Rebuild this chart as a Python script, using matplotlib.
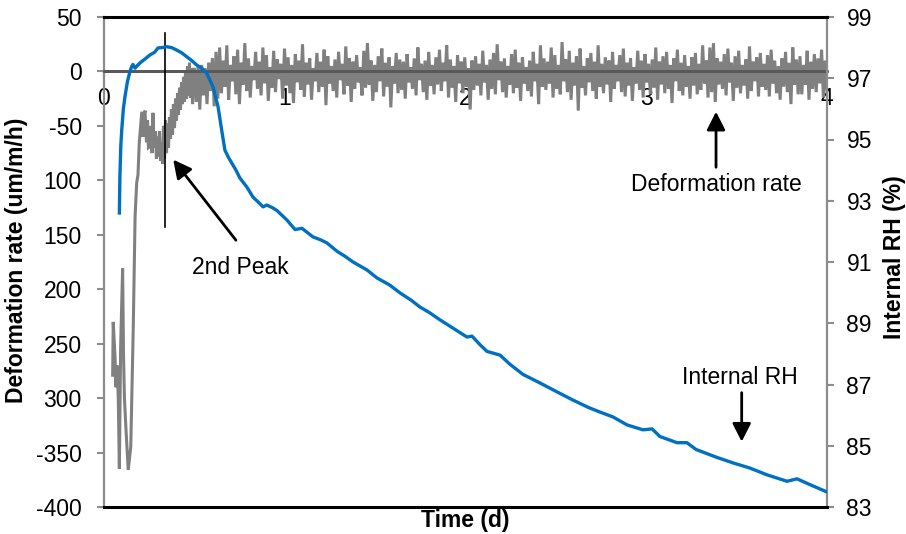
"""
Deformation rate vs internal RH - recreation of the early-age shrinkage chart.
"""

import matplotlib
matplotlib.use("Agg")
import matplotlib.pyplot as plt
import numpy as np

plt.rcParams["font.family"] = ["Liberation Sans", "DejaVu Sans"]

# --- Internal RH (right axis, %) -------------------------------------------
rh_time = [0.085, 0.088, 0.093, 0.098, 0.107, 0.116, 0.130, 0.145, 0.153, 0.160,
           0.172, 0.185, 0.199, 0.225, 0.254, 0.280, 0.299, 0.320, 0.347, 0.375,
           0.402, 0.430, 0.458, 0.485, 0.513, 0.540, 0.568, 0.603, 0.631, 0.651,
           0.669, 0.690, 0.707, 0.730, 0.752, 0.790, 0.824, 0.860, 0.880, 0.900,
           0.930, 0.957, 1.012, 1.057, 1.095, 1.156, 1.200, 1.234, 1.289, 1.330,
           1.378, 1.455, 1.510, 1.580, 1.638, 1.700, 1.748, 1.800, 1.859, 1.931,
           2.008, 2.036, 2.080, 2.119, 2.191, 2.246, 2.318, 2.412, 2.506, 2.595,
           2.680, 2.744, 2.816, 2.894, 2.982, 3.032, 3.076, 3.170, 3.225, 3.275,
           3.386, 3.480, 3.574, 3.668, 3.779, 3.834, 3.906, 4.000]
rh_value = [92.6, 93.8, 94.8, 95.3, 96.0, 96.4, 96.9, 97.25, 97.38, 97.45,
            97.33, 97.42, 97.50, 97.62, 97.76, 97.85, 97.99, 98.00, 98.03, 98.00,
            97.92, 97.83, 97.70, 97.58, 97.43, 97.33, 97.17, 96.72, 96.07, 95.31,
            94.65, 94.40, 94.23, 94.00, 93.74, 93.45, 93.12, 92.92, 92.80, 92.86,
            92.78, 92.68, 92.37, 92.06, 92.10, 91.82, 91.72, 91.62, 91.35, 91.20,
            91.00, 90.74, 90.48, 90.25, 89.99, 89.75, 89.53, 89.35, 89.11, 88.84,
            88.55, 88.58, 88.30, 88.08, 87.96, 87.66, 87.33, 87.05, 86.76, 86.49,
            86.25, 86.10, 85.94, 85.68, 85.52, 85.55, 85.30, 85.10, 85.10, 84.88,
            84.63, 84.44, 84.27, 84.05, 83.84, 83.92, 83.73, 83.49]

# --- Deformation rate (left axis, um/m/h) : early transient ----------------
rate_early_time = [0.048, 0.051, 0.061, 0.066, 0.072, 0.079, 0.085, 0.092, 0.103, 0.108,
                   0.113, 0.122, 0.134, 0.148, 0.162, 0.172, 0.181, 0.188, 0.195, 0.209,
                   0.216, 0.221, 0.227, 0.235, 0.241, 0.246, 0.254, 0.260, 0.266, 0.271,
                   0.277, 0.285, 0.290, 0.296, 0.302, 0.307, 0.313, 0.318, 0.324, 0.329,
                   0.335, 0.340, 0.346, 0.351, 0.357, 0.362, 0.368, 0.373, 0.379, 0.384,
                   0.390, 0.396, 0.401, 0.407, 0.412, 0.418, 0.423, 0.429, 0.434, 0.440,
                   0.445, 0.451, 0.456, 0.462, 0.467, 0.473, 0.478, 0.484, 0.490, 0.495]
rate_early_value = [-279, -230, -262, -290, -270, -300, -365, -253, -181, -260,
                    -300, -330, -366, -345, -234, -133, -102, -95, -66, -37,
                    -60, -40, -36, -65, -45, -70, -69, -50, -75, -38,
                    -70, -55, -80, -60, -78, -55, -82, -65, -85, -50,
                    -80, -45, -75, -48, -70, -42, -62, -35, -58, -30,
                    -52, -25, -45, -20, -40, -15, -35, -10, -30, -5,
                    -28, 0, -25, 5, -22, 8, -24, 3, -30, 2]

# --- Deformation rate : noisy plateau, alternating peaks / troughs ---------
rate_peaks = [2, 4, 6, 3, 8, 12, 18, 22,
              10, 24, 6, 14, 20, 8, 26, 12, 5, 18,
              9, 22, 15, 4, 19, 11, 7, 21, 13, 6,
              16, 10, 25, 8, 12, 3, 17, 9, 20, 14,
              5, 11, 18, 7, 23, 12, 9, 15, 4, 19,
              26, 10, 6, 14, 21, 8, 13, 5, 17, 11,
              9, 16, 4, 12, 22, 7, 10, 18, 6, 13,
              20, 8, 24, 11, 5, 15, 9, 13, 3, 10,
              14, 7, 19, 6, 11, 17, 25, 9, 12, 5,
              16, 20, 8, 13, 4, 10, 18, 7, 24, 12,
              9, 22, 15, 6, 27, 11, 19, 8, 14, 21,
              5, 12, 17, 9, 24, 7, 13, 10, 18, 6,
              15, 21, 8, 12, 4, 19, 10, 16, 7, 11,
              22, 9, 14, 18, 6, 12, 20, 8, 15, 5,
              13, 17, 7, 24, 10, 22, 26, 12, 9, 16,
              21, 8, 14, 19, 6, 11, 23, 9, 13, 17,
              7, 15, 20, 10, 5, 12, 18, 8, 22, 11,
              14, 6, 19, 9, 16, 12, 20, 10]
rate_troughs = [-28, -35, -22, -30, -18, -32, -25, -20,
                -14, -26, -9, -21, -30, -12, -18, -24, -8, -16,
                -22, -11, -27, -15, -19, -7, -25, -13, -20, -29,
                -10, -17, -23, -12, -26, -9, -19, -14, -31, -11,
                -18, -24, -8, -21, -13, -28, -16, -10, -22, -15,
                -12, -27, -19, -9, -23, -14, -33, -11, -20, -17,
                -25, -10, -16, -22, -8, -19, -26, -13, -21, -12,
                -18, -9, -24, -15, -28, -11, -20, -14, -35, -17,
                -13, -22, -10, -26, -16, -21, -8, -19, -24, -12,
                -20, -15, -27, -11, -18, -23, -9, -30, -14, -17,
                -11, -24, -16, -21, -9, -19, -26, -13, -36, -15,
                -22, -10, -18, -25, -14, -20, -12, -28, -16, -9,
                -19, -23, -13, -27, -11, -17, -24, -10, -21, -15,
                -26, -12, -20, -16, -29, -9, -18, -22, -14, -25,
                -13, -21, -17, -11, -24, -19, -28, -12, -16, -22,
                -10, -27, -15, -20, -13, -25, -18, -9, -23, -14,
                -17, -23, -11, -20, -26, -14, -19, -30, -12, -21,
                -21, -12, -26, -16, -19, -11, -24, -17]

# --- Axis ticks / labels ----------------------------------------------------
x_ticks = [0, 1, 2, 3, 4]
left_ticks = [50, 0, -50, -100, -150, -200, -250, -300, -350, -400]
left_tick_labels = ["50", "0", "-50", "100", "150", "200", "250", "300", "-350", "-400"]
right_ticks = [83, 85, 87, 89, 91, 93, 95, 97, 99]

# Annotations (left-axis coordinates)
peak2_time = 0.337
peak2_span = (35, -143)

BLUE = "#0070C0"
GREY = "#808080"
DARK = "#595959"
SPINE = "#8c8c8c"
FS = 16.5

# interleave peaks and troughs on the plateau time grid
noise = []
for hi, lo in zip(rate_peaks, rate_troughs):
    noise += [hi, lo]
noise_time = np.linspace(0.50, 4.0, len(noise))

rate_time = list(rate_early_time) + list(noise_time)
rate_value = list(rate_early_value) + noise

fig = plt.figure(figsize=(9.06, 5.34), dpi=100)
ax = fig.add_axes([104 / 906, 1 - 507 / 534, 723 / 906, 490 / 534])
ax2 = ax.twinx()

# deformation rate
ax.plot(rate_time, rate_value, color=GREY, linewidth=2.2, zorder=2,
        solid_joinstyle="miter")
ax.axhline(0, color=DARK, linewidth=2, zorder=3)
ax.plot([peak2_time, peak2_time], peak2_span, color="black", linewidth=1.2, zorder=4)

ax.set_xlim(0, 4)
ax.set_ylim(-400, 50)
ax.set_xticks(x_ticks)
ax.set_yticks(left_ticks)
ax.set_yticklabels(left_tick_labels)

ax.spines["bottom"].set_position(("data", 0))
ax.spines["bottom"].set_color(DARK)
ax.spines["bottom"].set_linewidth(2)
ax.spines["top"].set_visible(False)
ax.spines["right"].set_visible(False)
ax.spines["left"].set_color(SPINE)
ax.spines["left"].set_linewidth(1.6)
ax.tick_params(axis="x", direction="out", length=4, width=1.5, color=DARK,
               pad=7, labelsize=FS)
ax.tick_params(axis="y", direction="out", length=5, width=1.5, color=SPINE,
               pad=11, labelsize=FS)

# internal RH
ax2.plot(rh_time, rh_value, color=BLUE, linewidth=2.4, zorder=5)
ax2.set_ylim(83, 99)
ax2.set_yticks(right_ticks)
ax2.spines["left"].set_visible(False)
ax2.spines["right"].set_color(SPINE)
ax2.spines["right"].set_linewidth(1.6)
for side in ("top", "bottom"):
    ax2.spines[side].set_color("black")
    ax2.spines[side].set_linewidth(2.2)
ax2.tick_params(axis="y", direction="out", length=5, width=1.5, color=SPINE,
                pad=9, labelsize=FS)

# annotations
arrow = dict(arrowstyle="-|>,head_length=0.55,head_width=0.28", color="black",
             linewidth=2, mutation_scale=20, shrinkA=0, shrinkB=0)
ax.annotate("", xy=(0.383, -81), xytext=(0.730, -155), arrowprops=arrow, zorder=6)
ax.text(0.752, -180.5, "2nd Peak", fontsize=FS, ha="center", va="center")
ax.annotate("", xy=(3.386, -37), xytext=(3.386, -88), arrowprops=arrow, zorder=6)
ax.text(3.386, -104, "Deformation rate", fontsize=FS, ha="center", va="center")
ax.annotate("", xy=(3.528, -340), xytext=(3.528, -295), arrowprops=arrow, zorder=6)
ax.text(3.519, -281.5, "Internal RH", fontsize=FS, ha="center", va="center")

# axis titles
fig.text(17 / 906, 1 - 260 / 534, "Deformation rate (um/m/h)", rotation=90,
         fontsize=FS, fontweight="bold", ha="center", va="center")
fig.text(895 / 906, 1 - 257 / 534, "Internal RH (%)", rotation=90,
         fontsize=FS, fontweight="bold", ha="center", va="center")
ax.text(0.5, -0.004, "Time (d)", transform=ax.transAxes, fontsize=FS,
        fontweight="bold", ha="center", va="top")

fig.savefig("out.png", dpi=100)
